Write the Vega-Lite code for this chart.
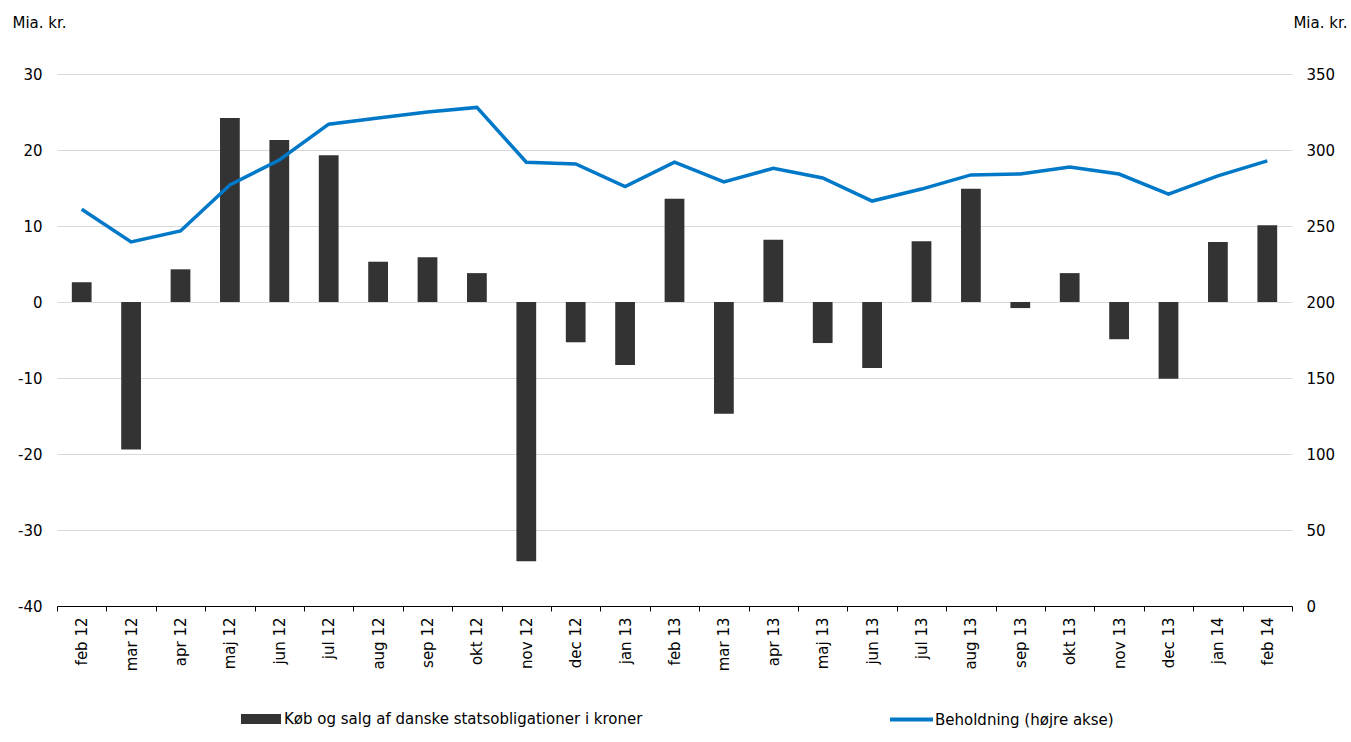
{
  "$schema": "https://vega.github.io/schema/vega-lite/v6.json",
  "width": 1235,
  "height": 532,
  "autosize": {"type": "none"},
  "padding": {"left": 57, "top": 74, "right": 59, "bottom": 136},
  "config": {
    "font": "DejaVu Sans",
    "view": {"stroke": null},
    "axis": {
      "labelFont": "DejaVu Sans",
      "labelFontSize": 15,
      "labelColor": "#000000",
      "titleFont": "DejaVu Sans",
      "titleFontSize": 15,
      "titleFontWeight": "normal",
      "titleColor": "#000000"
    },
    "legend": {
      "labelFont": "DejaVu Sans",
      "labelFontSize": 15,
      "labelColor": "#000000",
      "labelLimit": 0,
      "padding": 0,
      "labelOffset": 3
    }
  },
  "data": {
    "values": [
      {"month": "feb 12", "value": 2.6, "holding": 261},
      {"month": "mar 12", "value": -19.4, "holding": 239.5},
      {"month": "apr 12", "value": 4.3, "holding": 246.7},
      {"month": "maj 12", "value": 24.2, "holding": 277},
      {"month": "jun 12", "value": 21.3, "holding": 293.4},
      {"month": "jul 12", "value": 19.3, "holding": 317},
      {"month": "aug 12", "value": 5.3, "holding": 321},
      {"month": "sep 12", "value": 5.9, "holding": 325},
      {"month": "okt 12", "value": 3.8, "holding": 328},
      {"month": "nov 12", "value": -34.1, "holding": 292},
      {"month": "dec 12", "value": -5.3, "holding": 290.8},
      {"month": "jan 13", "value": -8.3, "holding": 276},
      {"month": "feb 13", "value": 13.6, "holding": 292},
      {"month": "mar 13", "value": -14.7, "holding": 279},
      {"month": "apr 13", "value": 8.2, "holding": 288},
      {"month": "maj 13", "value": -5.4, "holding": 281.6},
      {"month": "jun 13", "value": -8.7, "holding": 266.4},
      {"month": "jul 13", "value": 8.0, "holding": 274.3},
      {"month": "aug 13", "value": 14.9, "holding": 283.6},
      {"month": "sep 13", "value": -0.8, "holding": 284.2},
      {"month": "okt 13", "value": 3.8, "holding": 288.8},
      {"month": "nov 13", "value": -4.9, "holding": 284.2},
      {"month": "dec 13", "value": -10.1, "holding": 271},
      {"month": "jan 14", "value": 7.9, "holding": 283},
      {"month": "feb 14", "value": 10.1, "holding": 292.8}
    ]
  },
  "encoding": {
    "x": {
      "field": "month",
      "type": "ordinal",
      "sort": null,
      "scale": {"paddingInner": 0, "paddingOuter": 0},
      "axis": {
        "title": null,
        "labelAngle": -90,
        "tickBand": "extent",
        "tickSize": 5,
        "tickColor": "#000000",
        "domainColor": "#000000",
        "labelPadding": 6,
        "grid": false
      }
    }
  },
  "layer": [
    {
      "mark": {"type": "bar", "width": {"band": 0.4}},
      "encoding": {
        "y": {
          "field": "value",
          "type": "quantitative",
          "scale": {"domain": [-40, 30], "nice": false},
          "axis": {
            "title": "Mia. kr.",
            "values": [-40, -30, -20, -10, 0, 10, 20, 30],
            "labelExpr": "'' + datum.value",
            "grid": true,
            "gridColor": "#d9d9d9",
            "domain": false,
            "ticks": false,
            "labelPadding": 15,
            "titleAngle": 0,
            "titleAlign": "left",
            "titleBaseline": "middle",
            "titleX": -45,
            "titleY": -52
          }
        },
        "fill": {
          "datum": "Køb og salg af danske statsobligationer i kroner",
          "scale": {"range": ["#333333"]},
          "legend": {
            "title": null,
            "orient": "none",
            "legendX": 184,
            "legendY": 625,
            "symbolType": "M-1,-0.25H1V0.25H-1Z",
            "symbolSize": 1600,
            "symbolStrokeWidth": 0
          }
        }
      }
    },
    {
      "mark": {"type": "line", "strokeWidth": 3.5},
      "encoding": {
        "y": {
          "field": "holding",
          "type": "quantitative",
          "scale": {"domain": [0, 350], "nice": false},
          "axis": {
            "orient": "right",
            "title": "Mia. kr.",
            "values": [0, 50, 100, 150, 200, 250, 300, 350],
            "grid": false,
            "domain": false,
            "ticks": false,
            "labelPadding": 14,
            "titleAngle": 0,
            "titleAlign": "right",
            "titleBaseline": "middle",
            "titleX": 55,
            "titleY": -52
          }
        },
        "stroke": {
          "datum": "Beholdning (højre akse)",
          "scale": {"range": ["#0078c8"]},
          "legend": {
            "title": null,
            "orient": "none",
            "legendX": 831,
            "legendY": 622,
            "symbolType": "stroke",
            "symbolSize": 1849,
            "symbolStrokeWidth": 4,
            "labelOffset": 0
          }
        }
      }
    }
  ],
  "resolve": {"scale": {"y": "independent"}}
}
